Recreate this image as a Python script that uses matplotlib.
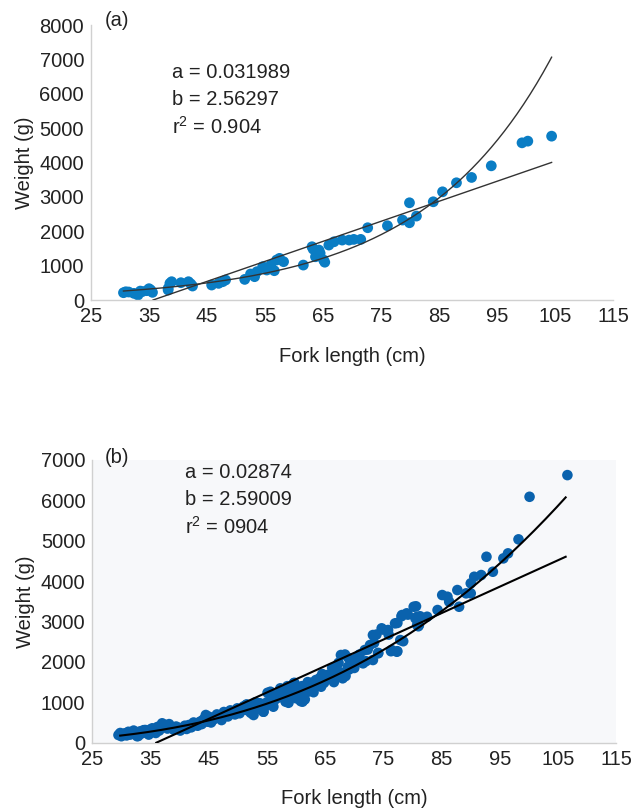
import numpy as np
import matplotlib
matplotlib.use('Agg')
import matplotlib.pyplot as plt

plt.rcParams['font.family'] = ['Liberation Sans', 'DejaVu Sans']
plt.rcParams['mathtext.default'] = 'regular'

'''Data read from the figure'''

#Panel (a): fork length (cm) and weight (g)
len_a = [30.6, 31.0, 31.5, 32.4, 33.1, 33.5, 33.8, 34.6, 35.3, 35.6, 35.0,
         38.3, 38.3, 38.6, 38.9, 40.5, 41.8, 42.5, 42.2,
         45.8, 47.0, 47.7, 48.2,
         51.5, 52.5, 53.2, 53.6,
         54.6, 55.3, 56.0, 56.6, 57.0, 57.5, 58.2, 61.6,
         63.1, 63.3, 63.7, 64.3, 64.5, 65.1, 65.3, 66.0, 66.9, 68.3, 69.5, 70.3, 71.5, 72.7,
         76.1, 78.7, 79.9, 81.1, 79.9, 84.0, 85.6, 88.0, 90.6, 94.0, 99.3, 100.3, 104.4]
wt_a = [213, 240, 233, 194, 145, 260, 242, 272, 291, 223, 330,
        340, 291, 485, 533, 504, 533, 407, 470,
        436, 485, 533, 582,
        600, 757, 679, 824,
        970, 873, 1018, 853, 1164, 1212, 1115, 1017,
        1550, 1480, 1259, 1453, 1360, 1163, 1100, 1599, 1695, 1744, 1744, 1764, 1764, 2103,
        2161, 2326, 2248, 2442, 2829, 2858, 3148, 3411, 3566, 3904, 4573, 4622, 4767]

#Panel (b)
len_b = [29.5, 29.8, 30.0, 30.3, 30.6, 30.9, 31.2, 31.5, 31.8, 32.1, 32.4, 32.7, 32.9,
         33.2, 33.5, 33.8, 34.1, 34.4, 34.7, 35.0, 35.3, 35.6, 35.9, 36.2, 36.5, 36.8,
         37.0, 37.3, 37.6, 37.9, 38.2, 38.5, 38.7, 39.0, 39.4, 39.8, 40.1, 40.5, 40.9,
         41.2, 41.6, 42.0, 42.4, 42.8, 43.1, 43.5, 43.8, 44.0, 44.3, 44.5, 44.8, 45.1,
         45.4, 45.7, 46.0, 46.4, 46.9, 47.2, 47.6, 48.0, 48.3, 48.7, 49.2, 49.5, 49.9,
         50.3, 50.6, 51.0, 51.5, 51.8, 52.1, 52.5, 52.9, 53.2, 53.5, 53.8, 54.2, 54.4,
         51.5, 52.2, 52.9, 54.0, 54.7, 55.1, 56.2, 56.9, 57.6, 58.7, 59.4, 59.7, 60.5,
         60.8, 61.5, 62.3, 62.6, 63.3, 64.1, 64.8, 65.5, 66.2, 66.9, 67.3, 68.0, 68.4,
         69.1, 69.5, 70.2, 70.9, 72.0, 72.3, 73.4, 73.8, 74.1, 74.9, 75.9, 76.3, 77.4,
         77.4, 78.1, 78.4, 79.2, 80.6, 81.0, 81.3,
         51.5, 52.7, 54.4, 55.6, 56.1, 57.3, 58.2, 59.6, 60.2, 61.1, 61.6, 62.5, 63.4,
         64.3, 65.4, 66.0, 66.8, 67.7, 68.0, 68.9, 69.7, 70.6, 71.5, 71.8, 72.7, 73.2,
         73.2, 74.1, 74.7, 75.8, 76.4, 77.0, 77.3, 77.9, 78.2, 79.0, 80.2, 80.5, 81.1,
         82.5, 84.3, 85.1,
         80.8, 80.8, 86.0, 86.3, 87.7, 88.0, 89.2, 90.0, 90.0, 90.6, 91.8, 92.7, 93.8,
         95.6, 96.4, 98.2, 100.1, 106.6,
         57.0, 58.0, 59.0, 60.0, 61.0, 62.0, 63.0, 64.5, 65.0, 66.5, 67.0, 68.5, 69.0,
         70.0, 71.0, 53.0, 54.0, 55.0, 56.0, 58.5, 60.0]
wt_b = [190, 240, 160, 210, 232, 180, 270, 200, 248, 300, 220, 160, 166,
        280, 230, 310, 314, 250, 200, 330, 356, 280, 240, 390, 300, 420,
        480, 400, 438, 350, 460, 380, 356, 320, 400, 370, 300, 356, 420,
        340, 438, 380, 500, 480, 420, 520, 460, 562, 600, 686, 520, 640,
        500, 562, 600, 700, 644, 560, 760, 728, 650, 800, 767, 700, 850,
        728, 800, 900, 933, 850, 809, 720, 865, 851, 980, 975, 900, 767,
        947, 741, 865, 824, 906, 1236, 1030, 1112, 1318, 988, 1277, 1483, 1153,
        1030, 1071, 1277, 1483, 1400, 1606, 1483, 1647, 1853, 1689, 1977, 1730, 2183,
        1812, 1977, 2059, 2183, 2018, 2306, 2471, 2677, 2224, 2801, 2677, 2265, 2265,
        2965, 3130, 2512, 3171, 3377, 2883, 3130,
        810, 685, 767, 1262, 891, 1346, 1015, 1470, 1262, 1015, 1223, 1346, 1552,
        1386, 1676, 1634, 1800, 2171, 1594, 1881, 2047, 2129, 1965, 2295, 2418, 2666,
        2047, 2213, 2832, 2790, 2295, 2955, 2252, 2542, 3161, 3203, 3366, 3079, 2913,
        3119, 3285, 3656,
        3119, 2913, 3614, 3490, 3780, 3366, 3698, 3698, 3946, 4109, 4151, 4604, 4233,
        4564, 4688, 5035, 6089, 6626,
        1200, 1250, 1150, 1350, 1400, 1500, 1250, 1700, 1550, 1500, 1900, 1650, 2100,
        1850, 2000, 1000, 950, 1000, 1150, 1400, 1100]

#Trend lines: (start, end) points
curve_a_x, curve_a_y = [30.6, 104.4], [262, 7064]    #exponential
line_a_x, line_a_y = [35.7, 104.4], [0, 4003]        #linear
curve_b_x, curve_b_y = [29.8, 106.3], [175, 6074]    #power
line_b_x, line_b_y = [36.0, 106.3], [0, 4604]        #linear

#Labels
text_a = ['a = 0.031989', 'b = 2.56297', 'r$^2$ = 0.904']
text_b = ['a = 0.02874', 'b = 2.59009', 'r$^2$ = 0904']
xticks = [25, 35, 45, 55, 65, 75, 85, 95, 105, 115]

#-----------------------#
#    The plot begins    #
#-----------------------#

fig = plt.figure(figsize=(6.43, 8.10), dpi=100)
ax_a = fig.add_axes([0.1415, 0.6296, 0.812, 0.3395])
ax_b = fig.add_axes([0.1435, 0.0831, 0.815, 0.349])


def style(ax, ymax, face):
    ax.set_facecolor(face)
    ax.set_xlim(25, 115)
    ax.set_ylim(0, ymax)
    ax.set_xticks(xticks)
    ax.set_yticks(np.arange(0, ymax + 1, 1000))
    for s in ['top', 'right']:
        ax.spines[s].set_visible(False)
    for s in ['left', 'bottom']:
        ax.spines[s].set_color('#d0d0d0')
        ax.spines[s].set_linewidth(1.0)
    ax.tick_params(length=0, labelsize=14.5, colors='#222222', pad=5)
    ax.set_xlabel('Fork length (cm)', fontsize=14.5, color='#222222', labelpad=15)
    ax.set_ylabel('Weight (g)', fontsize=14.5, color='#222222', labelpad=4)


#Panel (a)
style(ax_a, 8000, 'white')
ax_a.scatter(len_a, wt_a, s=60, color='#0a7dc4', edgecolors='none', zorder=2)
xc = np.linspace(curve_a_x[0], curve_a_x[1], 200)
k = np.log(curve_a_y[1] / curve_a_y[0]) / (curve_a_x[1] - curve_a_x[0])
ax_a.plot(xc, curve_a_y[0] * np.exp(k * (xc - curve_a_x[0])), color='#333333', lw=1.0, zorder=3)
ax_a.plot(line_a_x, line_a_y, color='#333333', lw=1.0, zorder=3)
ax_a.text(27.3, 8130, '(a)', fontsize=14.5, va='center', color='#222222')
for i, t in enumerate(text_a):
    ax_a.text(39.0, 6630 - i * 790, t, fontsize=14.5, va='center', color='#222222')

#Panel (b)
style(ax_b, 7000, '#f7f8fa')
ax_b.scatter(len_b, wt_b, s=58, color='#0a62ad', edgecolors='none', zorder=2)
xc = np.linspace(curve_b_x[0], curve_b_x[1], 200)
p = np.log(curve_b_y[1] / curve_b_y[0]) / np.log(curve_b_x[1] / curve_b_x[0])
ax_b.plot(xc, curve_b_y[0] * (xc / curve_b_x[0]) ** p, color='black', lw=1.5, zorder=3)
ax_b.plot(line_b_x, line_b_y, color='black', lw=1.5, zorder=3)
ax_b.text(27.2, 7050, '(b)', fontsize=14.5, va='center', color='#222222')
for i, t in enumerate(text_b):
    ax_b.text(41.0, 6700 - i * 680, t, fontsize=14.5, va='center', color='#222222')

plt.savefig('out.png', dpi=100)
plt.close()
